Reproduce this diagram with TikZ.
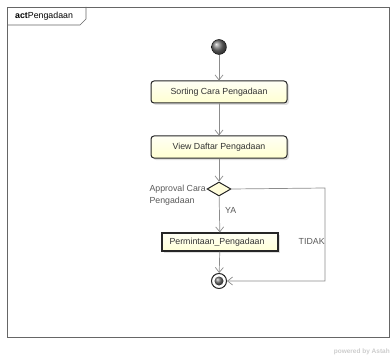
\documentclass[tikz,border=0pt]{standalone}
\usepackage{fontspec}
\setmainfont{Liberation Sans}
\usetikzlibrary{shapes.geometric,arrows.meta,shadows}
\begin{document}
\begin{tikzpicture}[x=1pt,y=-1pt,
  every node/.style={font=\fontsize{8.8}{11}\selectfont, text=black!80},
  action/.style={draw=black!85, line width=1pt, rounded corners=3pt, top color=yellow!4, bottom color=yellow!18, minimum width=136pt, minimum height=22pt, inner sep=0pt, drop shadow={shadow xshift=2pt,shadow yshift=-2pt,opacity=0.25}},
  callact/.style={draw=black!85, line width=1.2pt, top color=yellow!4, bottom color=yellow!16, minimum width=116pt, minimum height=18pt, inner sep=0pt, drop shadow={shadow xshift=2pt,shadow yshift=-2pt,opacity=0.25}},
  flow/.style={draw=black!45, line width=0.7pt, -{Straight Barb[length=5pt,width=8pt]}},
  lbl/.style={font=\fontsize{8.8}{12}\selectfont, text=black!65}
]
\useasboundingbox (0,0) rectangle (390,358);
% frame
\draw[black!60, line width=0.8pt] (7,7) -- (389,7) -- (389,337) -- (7,337) -- cycle;
\draw[black!60, line width=0.6pt] (7,25) -- (80,25) -- (86,19) -- (86,7);
\node[anchor=west, inner sep=0pt, text=black] (title) at (15,16) {\textbf{act}Pengadaan};
% initial node
\shade[ball color=black!55, draw=black] (219,47) circle (7.5);
\node[circle, minimum size=15pt, inner sep=0pt] (start) at (219,47) {};
% actions
\node[action] (sort) at (219,92) {Sorting Cara Pengadaan};
\node[action] (view) at (219,147) {View Daftar Pengadaan};
\node[diamond, draw=black!85, line width=1pt, fill=yellow!14, minimum width=24pt, minimum height=14pt, inner sep=0pt, aspect=1.7] (dec) at (219,189) {};
\node[lbl, align=left, anchor=north east, inner sep=0pt] (dlab) at (206,185) {Approval Cara\\Pengadaan};
\node[callact] (perm) at (220,242) {\hspace*{-6pt}Permintaan\_Pengadaan};
% final node
\node[circle, draw=black!85, line width=1pt, minimum size=15pt, inner sep=0pt, fill=white] (final) at (219,281) {};
\shade[ball color=black!55] (219,281) circle (4.5);
% flows
\draw[flow] (start) -- (sort);
\draw[flow] (sort) -- (view);
\draw[flow] (view) -- (dec);
\draw[flow] (dec) -- node[lbl, right, pos=0.4, xshift=2pt] {YA} (perm);
\draw[flow] (perm) -- (final);
\coordinate (c1) at (325,188);
\coordinate (c2) at (325,281);
\draw[flow] (dec.east) -- (c1) -- node[lbl, left, pos=0.57, inner sep=0pt] {TIDAK} (c2) -- (final);
\node[font=\fontsize{6.5}{7}\selectfont\bfseries, text=black!20, anchor=east, inner sep=0pt] (pw) at (390,352) {powered by Astah};
\end{tikzpicture}
\end{document}
